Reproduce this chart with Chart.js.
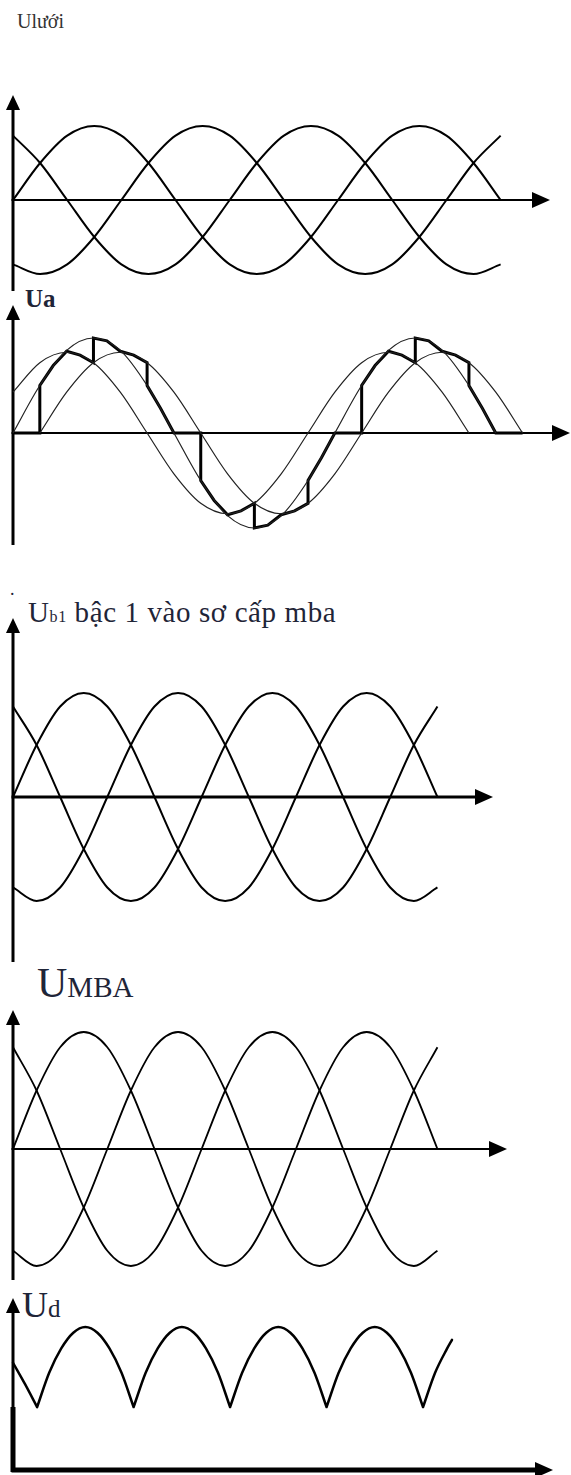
<!DOCTYPE html>
<html lang="vi">
<head>
<meta charset="UTF-8">
<title>Dạng sóng điện áp</title>
<script src="https://cdn.jsdelivr.net/npm/chart.js"></script>
<style>
  html, body { margin: 0; padding: 0; background: #fff; }
  #page { position: relative; width: 571px; height: 1475px; overflow: hidden; }
  #page canvas { position: absolute; left: 0; }
  .lbl {
    position: absolute;
    font-family: 'Liberation Serif', 'DejaVu Serif', serif;
    color: #1f2538;
    white-space: nowrap;
    line-height: 1;
  }
</style>
</head>
<body>
<div id="page">
  <div class="lbl" style="left:17px;top:11px;font-size:20px;color:#333">Ulưới</div>
  <div class="lbl" style="left:25px;top:286px;font-size:25px;font-weight:bold">Ua</div>
  <div class="lbl" style="left:10px;top:580px;font-size:18px">.</div>
  <div class="lbl" style="left:28px;top:598px;font-size:29px;letter-spacing:0.6px">U<span style="font-size:16px">b1</span> bậc 1 vào sơ cấp mba</div>
  <div class="lbl" style="left:37px;top:962px;font-size:42px">U<span style="font-size:29px">MBA</span></div>
  <div class="lbl" style="left:22px;top:1287px;font-size:36px">U<span style="font-size:25px">d</span></div>

  <canvas id="gridChart"></canvas>
  <canvas id="uaChart"></canvas>
  <canvas id="ub1Chart"></canvas>
  <canvas id="mbaChart"></canvas>
  <canvas id="udChart"></canvas>
</div>

<script>
// three-phase sine, sampled every 30 degrees (used by the grid, Ub1 and MBA plots)
const phaseDeg = [0, 30, 60, 90, 120, 150, 180, 210, 240, 270, 300, 330, 360, 390, 420, 450, 480, 510, 540];
const phaseA = [0, 0.5, 0.87, 1, 0.87, 0.5, 0, -0.5, -0.87, -1, -0.87, -0.5, 0, 0.5, 0.87, 1, 0.87, 0.5, 0];
const phaseB = [-0.87, -1, -0.87, -0.5, 0, 0.5, 0.87, 1, 0.87, 0.5, 0, -0.5, -0.87, -1, -0.87, -0.5, 0, 0.5, 0.87];
const phaseC = [0.87, 0.5, 0, -0.5, -0.87, -1, -0.87, -0.5, 0, 0.5, 0.87, 1, 0.87, 0.5, 0, -0.5, -0.87, -1, -0.87];

// Ua: main winding plus the two shifted tap voltages
const uaDeg = [0, 30, 60, 90, 120, 150, 180, 210, 240, 270, 300, 330, 360, 390, 420, 450, 480, 510, 540, 570];
const uaLead = [0.43, 0.74, 0.85, 0.74, 0.43, 0, -0.43, -0.74, -0.85, -0.74, -0.43, 0, 0.43, 0.74, 0.85, 0.74, 0.43, 0, null, null];
const uaMain = [0, 0.5, 0.87, 1, 0.87, 0.5, 0, -0.5, -0.87, -1, -0.87, -0.5, 0, 0.5, 0.87, 1, 0.87, 0.5, 0, null];
const uaLag = [null, 0, 0.43, 0.74, 0.85, 0.74, 0.43, 0, -0.43, -0.74, -0.85, -0.74, -0.43, 0, 0.43, 0.74, 0.85, 0.74, 0.43, 0];

// Ua output: switched between the windings, vertical steps at the switching angles
const uaOutDeg = [0, 30, 30, 45, 60, 75, 90, 90, 105, 120, 135, 150, 150, 165, 180, 210,
  210, 225, 240, 255, 270, 270, 285, 300, 315, 330, 330, 345, 360, 390,
  390, 405, 420, 435, 450, 450, 465, 480, 495, 510, 510, 525, 540, 570];
const uaOutVal = [0, 0, 0.5, 0.71, 0.86, 0.82, 0.74, 1, 0.97, 0.86, 0.82, 0.74, 0.5, 0.26, 0, 0,
  -0.5, -0.71, -0.86, -0.82, -0.74, -1, -0.97, -0.86, -0.82, -0.74, -0.5, -0.26, 0, 0,
  0.5, 0.71, 0.86, 0.82, 0.74, 1, 0.97, 0.86, 0.82, 0.74, 0.5, 0.26, 0, 0];

// Ud: rectified envelope, one arc per pulse (null breaks keep the cusps sharp)
const udDeg = [0, 15, 30, 30,
  30, 45, 60, 75, 90, 105, 120, 135, 150, 150,
  150, 165, 180, 195, 210, 225, 240, 255, 270, 270,
  270, 285, 300, 315, 330, 345, 360, 375, 390, 390,
  390, 405, 420, 435, 450, 465, 480, 495, 510, 510,
  510, 525, 540, 546];
const udVal = [0.75, 0.6, 0.44, null,
  0.44, 0.68, 0.85, 0.96, 1, 0.96, 0.85, 0.68, 0.44, null,
  0.44, 0.68, 0.85, 0.96, 1, 0.96, 0.85, 0.68, 0.44, null,
  0.44, 0.68, 0.85, 0.96, 1, 0.96, 0.85, 0.68, 0.44, null,
  0.44, 0.68, 0.85, 0.96, 1, 0.96, 0.85, 0.68, 0.44, null,
  0.44, 0.68, 0.85, 0.91];

const PAGE_W = 571;
const PAD = 24;

function pts(xs, ys) {
  return xs.map((x, i) => ({ x: x, y: ys[i] }));
}

function wave(xs, ys, width, extra) {
  return Object.assign({
    data: pts(xs, ys),
    borderColor: '#000',
    borderWidth: width,
    pointRadius: 0,
    fill: false,
    clip: false,
    spanGaps: false,
    cubicInterpolationMode: 'monotone'
  }, extra || {});
}

// axis lines with arrow heads, drawn under the curves
function axesPlugin(p) {
  return {
    id: 'arrowAxes',
    beforeDatasetsDraw(chart) {
      const ctx = chart.ctx;
      const a = chart.chartArea;
      const x0 = chart.scales.x.getPixelForValue(0);
      const y0 = chart.scales.y.getPixelForValue(0);
      ctx.save();
      ctx.strokeStyle = '#000';
      ctx.fillStyle = '#000';
      ctx.lineCap = 'butt';

      ctx.lineWidth = p.yW;
      ctx.beginPath();
      ctx.moveTo(x0, a.top + 10);
      ctx.lineTo(x0, a.bottom);
      ctx.stroke();
      if (p.yBoldFrom) {
        ctx.lineWidth = 5;
        ctx.beginPath();
        ctx.moveTo(x0, a.top + (p.yBoldFrom - p.top));
        ctx.lineTo(x0, a.bottom + 2);
        ctx.stroke();
      }
      ctx.beginPath();
      ctx.moveTo(x0, a.top);
      ctx.lineTo(x0 - 7, a.top + 15);
      ctx.lineTo(x0 + 7, a.top + 15);
      ctx.closePath();
      ctx.fill();

      ctx.lineWidth = p.xW;
      ctx.beginPath();
      ctx.moveTo(x0 - p.yW / 2, y0);
      ctx.lineTo(a.right - 12, y0);
      ctx.stroke();
      ctx.beginPath();
      ctx.moveTo(a.right, y0);
      ctx.lineTo(a.right - 18, y0 - 8);
      ctx.lineTo(a.right - 18, y0 + 8);
      ctx.closePath();
      ctx.fill();
      ctx.restore();
    }
  };
}

function drawPanel(id, p, datasets) {
  const el = document.getElementById(id);
  el.width = PAGE_W;
  el.height = p.bottom - p.top + 2 * PAD;
  el.style.top = (p.top - PAD) + 'px';
  return new Chart(el, {
    type: 'line',
    data: { datasets: datasets },
    options: {
      responsive: false,
      animation: false,
      events: [],
      layout: {
        autoPadding: false,
        padding: { left: p.axisX, right: PAGE_W - p.arrowX, top: PAD, bottom: PAD }
      },
      scales: {
        x: { type: 'linear', display: false, min: 0, max: (p.arrowX - p.axisX) / p.degPx },
        y: { type: 'linear', display: false,
             min: -(p.bottom - p.zeroY) / p.ampPx, max: (p.zeroY - p.top) / p.ampPx }
      },
      plugins: { legend: { display: false }, tooltip: { enabled: false } }
    },
    plugins: [axesPlugin(p)]
  });
}

// grid voltages
drawPanel('gridChart',
  { axisX: 13, top: 95, bottom: 291, zeroY: 200, ampPx: 74, degPx: 0.903, arrowX: 550, yW: 3, xW: 2 },
  [wave(phaseDeg, phaseA, 2), wave(phaseDeg, phaseB, 2), wave(phaseDeg, phaseC, 2)]);

// Ua
drawPanel('uaChart',
  { axisX: 13, top: 305, bottom: 545, zeroY: 433, ampPx: 95, degPx: 0.894, arrowX: 570, yW: 3, xW: 2 },
  [
    wave(uaDeg, uaLead, 1.2, { borderColor: '#222' }),
    wave(uaDeg, uaMain, 1.2, { borderColor: '#222' }),
    wave(uaDeg, uaLag, 1.2, { borderColor: '#222' }),
    wave(uaOutDeg, uaOutVal, 3, { tension: 0, cubicInterpolationMode: 'default' })
  ]);

// Ub1 into transformer primary
drawPanel('ub1Chart',
  { axisX: 13, top: 618, bottom: 962, zeroY: 797, ampPx: 104, degPx: 0.786, arrowX: 493, yW: 3, xW: 3 },
  [wave(phaseDeg, phaseA, 2), wave(phaseDeg, phaseB, 2), wave(phaseDeg, phaseC, 2)]);

// transformer secondary
drawPanel('mbaChart',
  { axisX: 13, top: 1010, bottom: 1280, zeroY: 1149, ampPx: 117, degPx: 0.786, arrowX: 507, yW: 3, xW: 2 },
  [wave(phaseDeg, phaseA, 1.8), wave(phaseDeg, phaseB, 1.8), wave(phaseDeg, phaseC, 1.8)]);

// Ud
drawPanel('udChart',
  { axisX: 13, top: 1298, bottom: 1470, zeroY: 1470, ampPx: 143, degPx: 0.804, arrowX: 553, yW: 3, xW: 5, yBoldFrom: 1407 },
  [wave(udDeg, udVal, 2.5, { borderCapStyle: 'round', borderJoinStyle: 'round' })]);
</script>
</body>
</html>
